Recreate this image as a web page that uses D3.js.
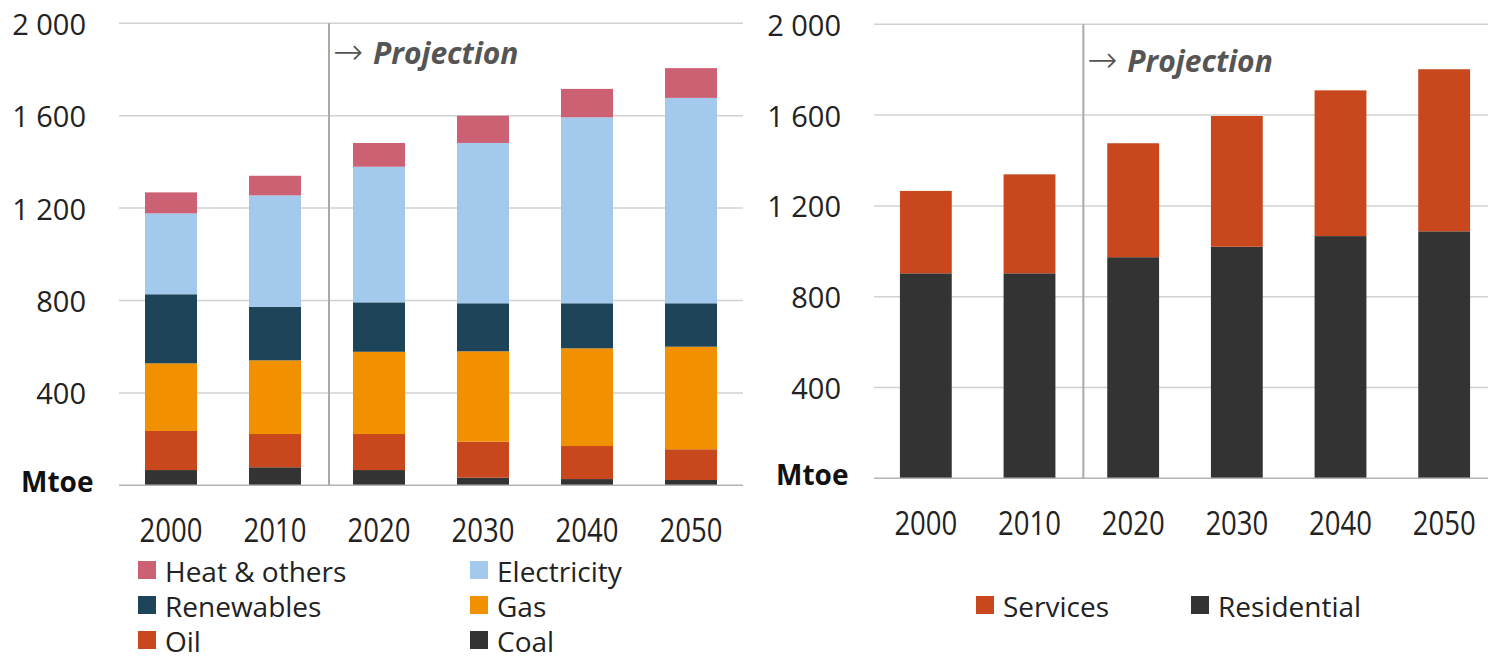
<!DOCTYPE html>
<html>
<head>
<meta charset="utf-8">
<script src="https://cdn.jsdelivr.net/npm/d3@7"></script>
<style>
  html, body { margin: 0; padding: 0; background: #ffffff; }
  svg { display: block; }
  text { font-family: "Open Sans", "Noto Sans", sans-serif; fill: #222222; }
</style>
</head>
<body>
<svg id="chart" width="1488" height="661"></svg>
<script>
// Final energy demand in buildings (Mtoe), by fuel and by sector
const years = ["2000", "2010", "2020", "2030", "2040", "2050"];

// Stacked from the bottom up
const coal        = [66, 78, 66, 33, 27, 23];
const oil         = [169, 144, 156, 156, 143, 133];
const gas         = [293, 319, 356, 391, 423, 444];
const renewables  = [299, 232, 214, 208, 195, 188];
const electricity = [350, 482, 587, 694, 805, 889];
const heatOthers  = [91, 85, 103, 118, 123, 129];

const residential = [903, 903, 974, 1020, 1067, 1088];
const services    = [363, 436, 502, 576, 642, 714];

const yTicks = [0, 400, 800, 1200, 1600, 2000];
const yTickLabels = ["", "400", "800", "1 200", "1 600", "2 000"];
const unitLabel = "Mtoe";
const projectionLabel = "Projection";

const fuelSeries = [
  { name: "Coal",          values: coal,        color: "#333333" },
  { name: "Oil",           values: oil,         color: "#c8471c" },
  { name: "Gas",           values: gas,         color: "#f29100" },
  { name: "Renewables",    values: renewables,  color: "#1e4459" },
  { name: "Electricity",   values: electricity, color: "#a3c9ec" },
  { name: "Heat & others", values: heatOthers,  color: "#cd6174" }
];
const sectorSeries = [
  { name: "Residential", values: residential, color: "#333333" },
  { name: "Services",    values: services,    color: "#c8471c" }
];

const svg = d3.select("#chart");

function drawPanel(cfg) {
  const g = svg.append("g");
  const x = d3.scaleBand().domain(years).range(cfg.xRange)
    .paddingInner(0.5).paddingOuter(0.25);
  const y = d3.scaleLinear().domain([0, 2000]).range(cfg.yRange);

  // horizontal gridlines
  g.selectAll("line.grid").data(yTicks.filter(d => d > 0)).join("line")
    .attr("x1", cfg.xRange[0]).attr("x2", cfg.xRange[1])
    .attr("y1", d => y(d)).attr("y2", d => y(d))
    .attr("stroke", "#d2d2d2").attr("stroke-width", 1.5);

  // y tick labels
  g.selectAll("text.ytick").data(yTicks.filter(d => d > 0)).join("text")
    .attr("x", cfg.labelRight).attr("y", d => y(d))
    .attr("text-anchor", "end").attr("dominant-baseline", "central")
    .style("font-size", "29px")
    .text(d => yTickLabels[yTicks.indexOf(d)]);

  // unit label at the zero line
  g.append("text")
    .attr("x", cfg.unitX).attr("y", y(0) - 4)
    .attr("dominant-baseline", "central")
    .style("font-size", "28px").style("font-weight", "700").style("fill", "#111")
    .text(unitLabel);

  // stacked bars
  const stackData = years.map((yr, i) => {
    const row = { year: yr };
    cfg.series.forEach(s => { row[s.name] = s.values[i]; });
    return row;
  });
  const stacked = d3.stack().keys(cfg.series.map(s => s.name))(stackData);
  g.selectAll("g.layer").data(stacked).join("g")
    .attr("fill", (d, i) => cfg.series[i].color)
    .selectAll("rect").data(d => d).join("rect")
    .attr("x", d => x(d.data.year))
    .attr("width", x.bandwidth())
    .attr("y", d => y(d[1]))
    .attr("height", d => y(d[0]) - y(d[1]));

  // baseline
  g.append("line")
    .attr("x1", cfg.xRange[0]).attr("x2", cfg.xRange[1])
    .attr("y1", y(0)).attr("y2", y(0))
    .attr("stroke", "#b4b4b4").attr("stroke-width", 1.5);

  // projection divider between 2010 and 2020
  const divX = (x("2010") + x.bandwidth() + x("2020")) / 2 + 2;
  g.append("line")
    .attr("x1", divX).attr("x2", divX)
    .attr("y1", y(2000)).attr("y2", y(0))
    .attr("stroke", "#a9a9a9").attr("stroke-width", 2);

  g.append("text")
    .attr("x", divX + 4).attr("y", cfg.projY)
    .style("font-family", "'DejaVu Sans', sans-serif")
    .style("font-weight", "200").style("font-size", "36px").style("fill", "#555")
    .text("\u2192");
  g.append("text")
    .attr("x", divX + 44).attr("y", cfg.projY)
    .style("font-size", "30px").style("fill", "#555")
    .style("font-weight", "700").style("font-style", "italic")
    .text(projectionLabel);

  // x tick labels
  g.selectAll("text.xtick").data(years).join("text")
    .attr("transform", d => `translate(${x(d) + x.bandwidth() / 2},${y(0) + cfg.xLabelDy}) scale(0.86,1)`)
    .attr("text-anchor", "middle").attr("dominant-baseline", "central")
    .style("font-size", "32px")
    .text(d => d);

  // legend
  const lg = g.selectAll("g.legend").data(cfg.legend).join("g")
    .attr("transform", d => `translate(${d.x},${d.y})`);
  lg.append("rect").attr("x", 0).attr("y", -9).attr("width", 18).attr("height", 18)
    .attr("fill", d => d.color);
  lg.append("text").attr("x", 27).attr("y", 1)
    .attr("dominant-baseline", "central")
    .style("font-size", "28px")
    .text(d => d.name);
}

// legend layout: two columns, filled row by row from the top of the stack
const fuelLegendOrder = fuelSeries.slice().reverse();
const fuelLegend = fuelLegendOrder.map((s, i) => ({
  name: s.name, color: s.color,
  x: i % 2 === 0 ? 138 : 470,
  y: 570 + Math.floor(i / 2) * 35
}));
const sectorLegendOrder = sectorSeries.slice().reverse();
const sectorLegend = sectorLegendOrder.map((s, i) => ({
  name: s.name, color: s.color,
  x: i === 0 ? 976 : 1191,
  y: 605
}));

drawPanel({
  xRange: [119, 743], yRange: [485.3, 23.3],
  series: fuelSeries, legend: fuelLegend,
  labelRight: 86, unitX: 21, projY: 64, xLabelDy: 44
});
drawPanel({
  xRange: [874, 1496], yRange: [478.3, 24.3],
  series: sectorSeries, legend: sectorLegend,
  labelRight: 841, unitX: 776, projY: 72, xLabelDy: 44
});
</script>
</body>
</html>
